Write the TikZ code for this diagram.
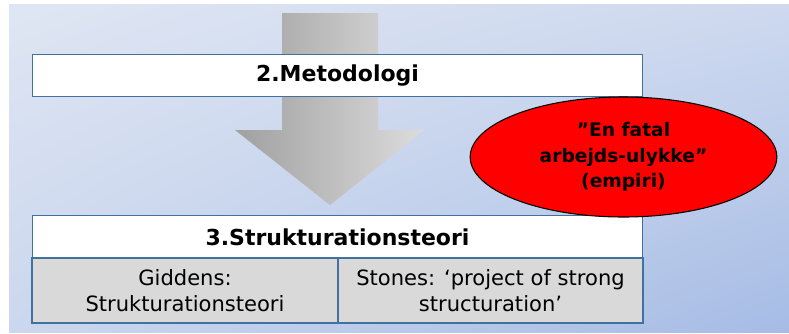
\documentclass[tikz,border=0pt]{standalone}
\usepackage{fontspec}
\setmainfont{DejaVu Sans}
\usetikzlibrary{shapes.geometric,shadings}
\definecolor{boxline}{HTML}{41719C}
\definecolor{cellgray}{HTML}{D9D9D9}
\definecolor{bgul}{HTML}{DFE6F3}
\definecolor{bgur}{HTML}{CED9EF}
\definecolor{bgll}{HTML}{CBD7EE}
\definecolor{bglr}{HTML}{A6BCE5}
\definecolor{arrowdark}{HTML}{A0A0A0}
\definecolor{arrowlight}{HTML}{DCDCDC}
\tikzset{every picture/.style={x=0.75pt,y=-0.75pt}}
\tikzset{
  titlebox/.style={draw=boxline, line width=0.8pt, fill=white, minimum width=458pt, minimum height=32pt, inner sep=0pt, font=\fontsize{16.5}{19}\selectfont\bfseries},
  cellbox/.style={draw=boxline, line width=0.8pt, fill=cellgray, minimum height=48.75pt, inner sep=0pt, align=center, font=\fontsize{15.8}{19}\selectfont}
}

\begin{document}
\begin{tikzpicture}
\useasboundingbox (0,0) rectangle (789,333);
% background
\shade[upper left=bgul, upper right=bgur, lower left=bgll, lower right=bglr]
  (9,4) rectangle (789,332);
% big arrow
\shade[left color=arrowdark, right color=arrowlight]
  (282,13) -- (378,13) -- (378,130) -- (424,130) -- (330,205) -- (235,130) -- (282,130) -- cycle;

\node[titlebox] (metode) at (337.5,75.5) {2.Metodologi};
\node[titlebox] (teori) at (337.5,237) {3.Strukturationsteori};
\node[cellbox, minimum width=229.5pt] (giddens) at (185,290.5) {Giddens:\\Strukturationsteori};
\node[cellbox, minimum width=228.75pt] (stones) at (490.5,290.5) {Stones: ‘project of strong\\structuration’};

\node[ellipse, draw=black, line width=0.8pt, fill=red, minimum width=230pt, minimum height=90pt, inner sep=0pt,
      align=center, font=\fontsize{14}{19}\selectfont\bfseries] (empiri) at (623.5,157)
  {”En fatal\\arbejds-ulykke”\\(empiri)};
\end{tikzpicture}
\end{document}
